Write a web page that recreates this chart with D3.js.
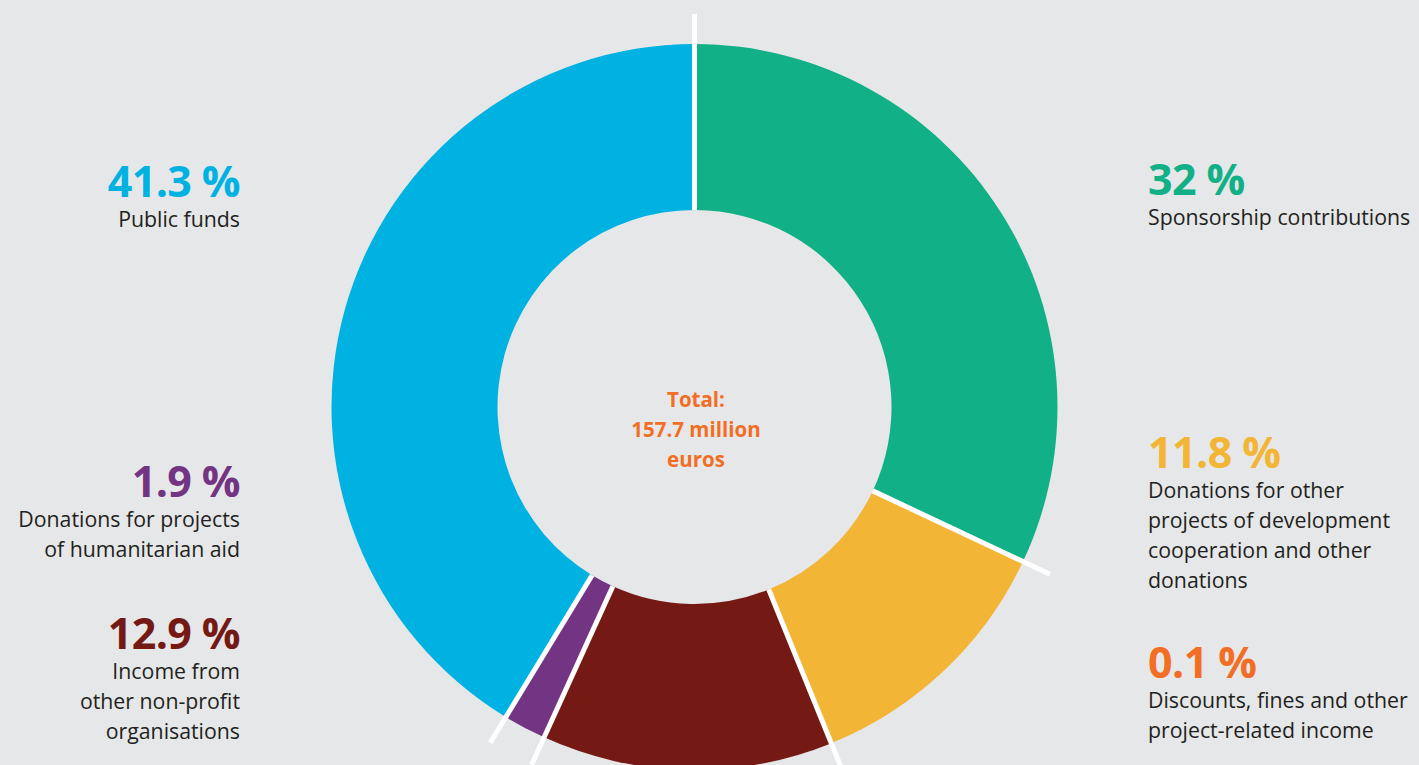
<!DOCTYPE html>
<html>
<head>
<meta charset="utf-8">
<script src="https://cdn.jsdelivr.net/npm/d3@7"></script>
<style>
  html, body { margin: 0; padding: 0; background: #e6e7e8; }
  svg { display: block; }
  text { font-family: "Open Sans", "Noto Sans", sans-serif; }
</style>
</head>
<body>
<svg id="chart" width="1419" height="765"></svg>
<script>
// Income sources, in drawing order clockwise from 12 o'clock
const categories = [
  "Sponsorship contributions",
  "Donations for other projects of development cooperation and other donations",
  "Discounts, fines and other project-related income",
  "Income from other non-profit organisations",
  "Donations for projects of humanitarian aid",
  "Public funds"
];
const shares = [32, 11.8, 0.1, 12.9, 1.9, 41.3];
const shareLabels = ["32 %", "11.8 %", "0.1 %", "12.9 %", "1.9 %", "41.3 %"];
const colors = ["#12b086", "#f3b535", "#f26e24", "#741914", "#733583", "#00b2e2"];
const labelLines = [
  ["Sponsorship contributions"],
  ["Donations for other", "projects of development", "cooperation and other", "donations"],
  ["Discounts, fines and other", "project-related income"],
  ["Income from", "other non-profit", "organisations"],
  ["Donations for projects", "of humanitarian aid"],
  ["Public funds"]
];
const totalLines = ["Total:", "157.7 million", "euros"];

const svg = d3.select("#chart");
const cx = 694.5, cy = 407;
const outerR = 363, innerR = 197, tickExtra = 30;

const pie = d3.pie().sort(null).value(d => d).startAngle(0).endAngle(2 * Math.PI);
const arcs = pie(shares);
const arc = d3.arc().innerRadius(innerR).outerRadius(outerR);

const g = svg.append("g").attr("transform", `translate(${cx},${cy})`);

g.selectAll("path.slice")
  .data(arcs)
  .join("path")
  .attr("class", "slice")
  .attr("d", arc)
  .attr("fill", (d, i) => colors[i]);

// White separators between slices; near-coincident boundaries are merged
const bounds = [];
arcs.forEach(a => {
  const ang = a.startAngle;
  const last = bounds[bounds.length - 1];
  if (last !== undefined && Math.abs(ang - last.a) < 0.01) {
    last.a = (last.a + ang) / 2;
  } else {
    bounds.push({ a: ang });
  }
});
const rScale = d3.scaleLinear().domain([0, 1]).range([innerR, outerR + tickExtra]);
g.selectAll("line.sep")
  .data(bounds)
  .join("line")
  .attr("class", "sep")
  .attr("x1", d => rScale(0) * Math.sin(d.a))
  .attr("y1", d => -rScale(0) * Math.cos(d.a))
  .attr("x2", d => rScale(1) * Math.sin(d.a))
  .attr("y2", d => -rScale(1) * Math.cos(d.a))
  .attr("stroke", "#ffffff")
  .attr("stroke-width", 5);

// Centre caption
svg.append("text")
  .attr("x", 696)
  .attr("text-anchor", "middle")
  .attr("fill", "#f26e24")
  .attr("font-size", 20.5)
  .attr("font-weight", 700)
  .selectAll("tspan")
  .data(totalLines)
  .join("tspan")
  .attr("x", 696)
  .attr("y", (d, i) => 407 + i * 30)
  .text(d => d);

// Side labels: value headline plus description lines
const labelPos = [
  { x: 1148, y: 195, anchor: "start" },
  { x: 1148, y: 468, anchor: "start" },
  { x: 1148, y: 678, anchor: "start" },
  { x: 240, y: 649, anchor: "end" },
  { x: 240, y: 497, anchor: "end" },
  { x: 240, y: 197, anchor: "end" }
];

const labels = svg.selectAll("g.label")
  .data(arcs)
  .join("g")
  .attr("class", "label");

labels.append("text")
  .attr("x", (d, i) => labelPos[i].x)
  .attr("y", (d, i) => labelPos[i].y)
  .attr("text-anchor", (d, i) => labelPos[i].anchor)
  .attr("fill", (d, i) => colors[i])
  .attr("font-size", 43)
  .attr("font-weight", 700)
  .attr("letter-spacing", -0.6)
  .text((d, i) => shareLabels[i]);

labels.append("text")
  .attr("text-anchor", (d, i) => labelPos[i].anchor)
  .attr("fill", "#231f20")
  .attr("font-size", 21.3)
  .each(function (d, i) {
    d3.select(this).selectAll("tspan")
      .data(labelLines[i])
      .join("tspan")
      .attr("x", labelPos[i].x)
      .attr("y", (t, j) => labelPos[i].y + 30 + j * 30)
      .text(t => t);
  });
</script>
</body>
</html>
